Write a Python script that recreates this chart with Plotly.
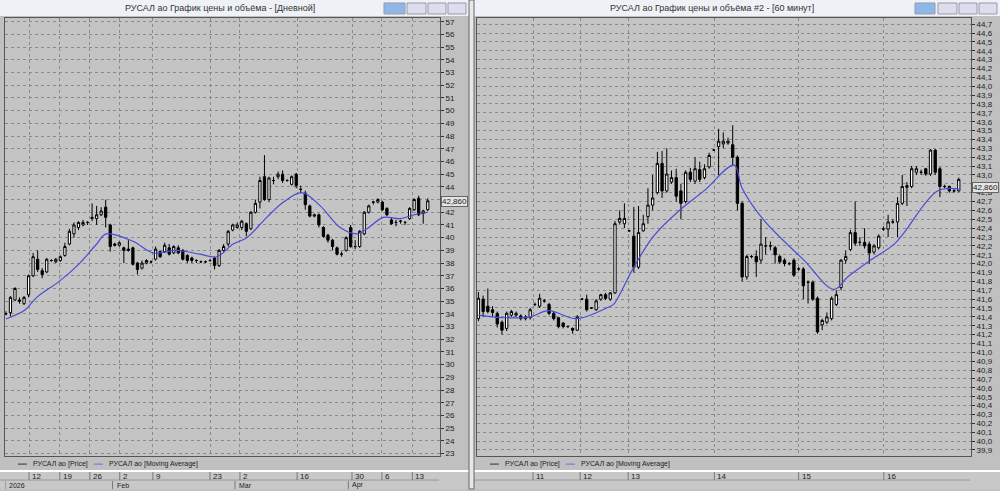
import plotly.graph_objects as go

# ---------- Left panel (daily) ----------
L_open  = [34.0,34.1,35.1,35.1,34.8,35.5,37.0,38.3,37.4,37.3,38.2,38.1,38.2,38.6,39.5,40.3,40.8,41.0,41.2,41.5,41.5,41.8,42.4,41.0,39.5,39.4,39.2,39.1,39.2,38.0,37.6,38.0,38.1,38.3,38.9,38.9,39.2,38.8,39.2,39.0,38.6,38.4,38.2,38.1,38.1,38.2,38.4,37.8,39.0,39.5,40.6,40.8,40.8,41.1,40.7,42.0,42.8,44.8,43.0,44.5,44.8,45.0,44.5,44.2,45.0,43.8,43.5,42.5,41.7,41.8,40.8,40.2,39.8,39.2,38.7,39.0,40.8,39.3,39.3,40.3,42.0,42.8,42.8,42.8,42.3,41.4,41.2,41.3,41.2,41.5,42.2,43.1,41.9,42.2]
L_high  = [34.2,35.4,36.1,35.3,35.4,37.1,38.8,39.0,37.6,38.4,38.3,38.4,38.6,39.6,40.7,41.2,41.3,41.4,41.3,42.7,42.5,42.4,43.0,41.1,39.6,39.7,39.3,39.8,39.3,38.1,38.2,38.3,38.2,39.3,39.0,39.6,39.5,39.4,39.4,39.1,38.7,38.5,38.3,38.2,38.2,38.3,38.5,39.1,39.5,40.6,41.1,41.2,41.4,41.2,42.1,43.0,44.8,46.5,44.8,44.8,45.2,45.3,44.6,44.9,45.1,44.1,43.7,42.6,41.9,41.9,40.9,40.3,39.9,39.3,38.9,40.1,41.0,39.8,40.6,42.1,42.6,42.9,43.1,42.9,42.4,41.6,41.4,41.4,41.3,42.4,43.1,43.3,42.2,43.1]
L_low   = [33.9,33.8,35.0,34.8,34.7,35.3,36.9,37.3,36.8,37.2,38.1,38.0,38.1,38.5,39.4,40.0,40.6,40.9,41.0,41.3,41.0,41.7,40.8,38.9,39.3,39.3,38.0,38.9,37.8,37.1,37.5,37.9,38.0,38.2,38.4,38.8,38.6,38.7,38.7,38.2,38.0,38.0,38.0,38.0,38.0,38.1,37.5,37.7,38.9,39.3,40.5,40.7,40.6,40.1,40.6,41.9,42.3,42.9,42.8,44.2,44.6,44.3,44.4,44.1,43.9,43.5,42.2,41.6,41.6,40.8,40.0,39.6,39.0,38.6,38.5,38.9,39.2,39.1,39.2,40.2,41.9,42.6,42.7,42.1,41.7,41.0,40.9,41.1,41.0,41.4,42.1,41.7,41.1,42.1]
L_close = [34.0,35.3,36.0,35.0,35.3,37.0,38.5,37.5,37.1,38.3,38.2,38.3,38.5,39.3,40.5,41.0,41.2,41.2,41.2,41.6,41.8,42.1,41.6,39.3,39.4,39.6,39.0,39.0,37.9,37.5,38.0,38.2,38.1,39.1,38.5,39.4,38.7,39.3,38.8,38.3,38.2,38.2,38.2,38.1,38.1,38.2,37.8,39.0,39.3,40.5,41.0,41.0,41.3,40.5,42.0,42.7,44.5,43.0,44.7,44.5,45.0,44.5,44.5,44.8,44.1,43.8,42.6,41.7,41.8,41.0,40.1,39.8,39.3,38.7,38.7,40.0,39.3,39.3,40.5,42.0,42.5,42.8,43.0,42.2,41.8,41.1,41.2,41.3,41.2,42.3,43.0,41.8,42.1,42.9]
L_ma_x  = [0,4.2,6.8,11.9,16.3,20,22.1,28.1,32.5,37.6,42.8,46.5,50.1,53.1,57.5,61.2,65.2,69.3,73.7,77.4,79.6,83.2,86.9,89.9,93]
L_ma_y  = [33.6,34.3,35.3,36.6,38.0,39.5,40.3,39.7,38.8,39.0,38.7,38.5,39.5,40.0,41.6,42.8,43.55,42.5,40.8,40.3,40.7,41.6,41.5,41.8,42.0]
L_day_pos = [5.1,11.9,18.5,25.1,32.4,45,51.6,64.2,76.3,82.9,89.6]
L_day_lbl = ["12","19","26","2","9","23","2","16","30","6","13"]
L_mon_pos = [-0.2,23.5,50.5,75.5]
L_mon_lbl = ["2026","Feb","Mar","Apr"]
L_yticks = list(range(23, 58))

# ---------- Right panel (60 min) ----------
R_ohlc = [
(41.38,41.68,41.35,41.61),(41.60,41.64,41.40,41.46),(41.52,41.72,41.44,41.46),(41.48,41.52,41.40,41.45),
(41.44,41.46,41.28,41.32),(41.34,41.36,41.20,41.25),(41.27,41.46,41.24,41.44),(41.42,41.48,41.40,41.46),
(41.42,41.46,41.40,41.44),(41.41,41.43,41.36,41.38),(41.38,41.42,41.36,41.40),(41.39,41.50,41.37,41.48),
(41.54,41.56,41.52,41.54),(41.52,41.66,41.50,41.61),(41.58,41.60,41.56,41.58),(41.54,41.56,41.42,41.44),
(41.44,41.46,41.36,41.38),(41.39,41.40,41.27,41.29),(41.33,41.34,41.27,41.29),(41.29,41.30,41.28,41.29),
(41.27,41.28,41.21,41.25),(41.25,41.42,41.24,41.40),(41.60,41.61,41.59,41.60),(41.60,41.65,41.46,41.48),
(41.50,41.51,41.49,41.50),(41.48,41.60,41.47,41.58),(41.60,41.66,41.58,41.65),(41.65,41.67,41.59,41.61),
(41.60,41.68,41.58,41.67),(41.67,42.48,41.66,42.45),(42.47,42.60,42.44,42.51),(42.45,42.68,42.40,42.51),
(42.37,42.38,42.36,42.37),(42.31,42.64,41.90,41.96),(41.96,42.65,41.94,42.35),(42.37,42.55,42.36,42.45),
(42.53,42.85,42.45,42.66),(42.66,43.00,42.60,42.74),(42.80,43.26,42.78,43.13),(43.13,43.27,42.74,42.82),
(42.82,43.30,42.80,43.01),(42.92,43.05,42.90,42.97),(42.97,43.07,42.70,42.76),(42.82,42.90,42.50,42.68),
(42.70,43.05,42.68,43.03),(43.03,43.08,42.92,42.95),(42.93,43.20,42.90,43.07),(43.06,43.15,42.92,42.95),
(42.97,43.12,42.95,43.07),(43.09,43.25,43.07,43.22),(43.28,43.29,43.27,43.28),(43.32,43.52,43.00,43.38),
(43.35,43.48,43.30,43.38),(43.36,43.42,43.34,43.38),(43.34,43.56,43.10,43.20),(43.20,43.22,42.60,42.68),
(42.68,42.70,41.80,41.85),(41.85,42.10,41.82,42.08),(42.08,42.10,42.06,42.08),(42.08,42.15,41.85,42.02),
(42.04,42.50,42.00,42.22),(42.20,42.30,42.10,42.20),(42.20,42.25,42.15,42.20),(42.18,42.20,42.00,42.10),
(42.08,42.10,42.00,42.02),(42.04,42.06,41.97,42.00),(42.00,42.02,41.98,42.00),(42.04,42.06,41.85,41.87),
(41.94,41.96,41.92,41.94),(41.94,41.96,41.60,41.75),(41.79,41.81,41.55,41.79),(41.79,41.81,41.58,41.60),
(41.61,41.63,41.21,41.23),(41.31,41.38,41.25,41.36),(41.34,41.45,41.32,41.40),(41.38,41.63,41.36,41.61),
(41.54,41.70,41.52,41.65),(41.73,42.05,41.70,42.04),(42.04,42.15,42.00,42.08),(42.16,42.38,42.14,42.35),
(42.35,42.70,42.20,42.23),(42.24,42.30,42.20,42.24),(42.24,42.40,42.17,42.20),(42.22,42.25,42.00,42.12),
(42.13,42.22,42.11,42.20),(42.18,42.33,42.16,42.31),(42.39,42.42,42.37,42.39),(42.39,42.55,42.30,42.47),
(42.47,42.50,42.45,42.47),(42.47,42.75,42.30,42.68),(42.68,43.00,42.66,42.87),(42.86,42.92,42.65,42.88),
(42.87,43.10,42.85,43.07),(43.03,43.10,43.00,43.07),(43.03,43.06,43.00,43.03),(43.07,43.08,42.99,43.01),
(43.01,43.29,42.99,43.28),(43.28,43.29,43.00,43.03),(43.07,43.09,42.75,42.87),(42.87,42.89,42.85,42.87),
(42.87,42.88,42.80,42.82),(42.82,42.84,42.80,42.82),(42.82,42.97,42.81,42.95)]
R_open  = [r[0] for r in R_ohlc]
R_high  = [r[1] for r in R_ohlc]
R_low   = [r[2] for r in R_ohlc]
R_close = [r[3] for r in R_ohlc]
R_ma_x = [0,5.3,11,14.9,20.9,28,28.7,33,37.2,42.9,47.9,54.3,56,60.6,69.1,75.5,78.4,83.3,88.3,90.4,97.5,102.1]
R_ma_y = [41.42,41.39,41.40,41.47,41.38,41.52,41.54,41.96,42.31,42.61,42.82,43.11,42.85,42.49,42.04,41.71,41.85,42.04,42.22,42.35,42.82,42.84]
R_day_pos = [11.6,21.6,31.8,50.1,68.0,86.1]
R_day_lbl = ["11","12","13","14","15","16"]
R_yticks = [round(39.9 + 0.1*i, 1) for i in range(49)]

LAST = 42.86
W, H = 1000, 491
def px(x): return x / W
def py(y): return 1 - y / H

fig = go.Figure()
inc = dict(line=dict(color="black", width=1), fillcolor="white")
dec = dict(line=dict(color="black", width=1), fillcolor="black")
fig.add_trace(go.Candlestick(x=list(range(len(L_open))), open=L_open, high=L_high, low=L_low, close=L_close,
    increasing=inc, decreasing=dec, whiskerwidth=0, xaxis="x", yaxis="y", showlegend=False, hoverinfo="skip"))
fig.add_trace(go.Scatter(x=L_ma_x, y=L_ma_y, mode="lines", line=dict(color="#4a4ad8", width=1.2, shape="spline"),
    xaxis="x", yaxis="y", showlegend=False))
fig.add_trace(go.Candlestick(x=list(range(len(R_open))), open=R_open, high=R_high, low=R_low, close=R_close,
    increasing=inc, decreasing=dec, whiskerwidth=0, xaxis="x2", yaxis="y2", showlegend=False, hoverinfo="skip"))
fig.add_trace(go.Scatter(x=R_ma_x, y=R_ma_y, mode="lines", line=dict(color="#4a4ad8", width=1.2, shape="spline"),
    xaxis="x2", yaxis="y2", showlegend=False))

font = dict(family="Liberation Sans, Arial", size=8, color="#222")
gridc = "#8a8a8a"
ax_common = dict(showgrid=True, gridcolor=gridc, griddash="dot", gridwidth=1, zeroline=False,
                 showline=True, linecolor="#555", linewidth=1, mirror=True, fixedrange=True)
fig.update_layout(
    width=W, height=H, margin=dict(l=0, r=0, t=0, b=0),
    paper_bgcolor="#c0c0c0", plot_bgcolor="#c4c4c4", font=font,
    xaxis=dict(domain=[px(5), px(440)], range=[-0.2, 95.7], tickvals=L_day_pos, showticklabels=False,
               rangeslider=dict(visible=False), anchor="y", **ax_common),
    yaxis=dict(domain=[py(458), py(18)], range=[22.8, 57.3], side="right", tickvals=L_yticks,
               ticktext=[str(v) for v in L_yticks], ticks="outside", ticklen=3, tickcolor="#333",
               anchor="x", tickfont=font, **ax_common),
    xaxis2=dict(domain=[px(477), px(971)], range=[-0.3, 104.6], tickvals=R_day_pos, showticklabels=False,
                rangeslider=dict(visible=False), anchor="y2", **ax_common),
    yaxis2=dict(domain=[py(458), py(18)], range=[39.83, 44.77], side="right", tickvals=R_yticks,
                ticktext=[f"{v:.1f}".replace(".", ",") for v in R_yticks], ticks="outside", ticklen=3,
                tickcolor="#333", anchor="x2", tickfont=font, **ax_common),
)

shapes, ann = [], []
for x0, x1 in [(0, 469), (474, 1000)]:
    shapes.append(dict(type="rect", xref="paper", yref="paper", x0=px(x0), x1=px(x1), y0=py(16), y1=py(0),
                       fillcolor="#eef1f5", line=dict(width=0), layer="below"))
    shapes.append(dict(type="rect", xref="paper", yref="paper", x0=px(x0), x1=px(x1), y0=py(491), y1=py(473),
                       fillcolor="#c8c8c8", line=dict(width=0), layer="below"))
    shapes.append(dict(type="line", xref="paper", yref="paper", x0=px(x0), x1=px(x1), y0=py(473), y1=py(473),
                       line=dict(color="white", width=2)))
    shapes.append(dict(type="line", xref="paper", yref="paper", x0=px(x0), x1=px(x1 - 30), y0=py(482), y1=py(482),
                       line=dict(color="#999", width=1)))
shapes.append(dict(type="rect", xref="paper", yref="paper", x0=px(469), x1=px(474), y0=0, y1=1,
                   fillcolor="#e8e8e8", line=dict(color="#666", width=1)))
ann.append(dict(text="РУСАЛ ао График цены и объёма - [Дневной]", x=px(220), y=py(8), xref="paper", yref="paper",
                xanchor="center", yanchor="middle",
                showarrow=False, font=dict(family="Liberation Sans, Arial", size=9, color="#333")))
ann.append(dict(text="РУСАЛ ао График цены и объёма #2 - [60 минут]", x=px(712), y=py(8), xref="paper", yref="paper",
                xanchor="center", yanchor="middle",
                showarrow=False, font=dict(family="Liberation Sans, Arial", size=9, color="#333")))
for bx in [(384, 405, "#8fb8ea"), (407, 426, "#dde"), (428, 446, "#dde"), (448, 466, "#dde"),
           (915, 935, "#8fb8ea"), (938, 957, "#dde"), (959, 977, "#dde"), (979, 997, "#dde")]:
    shapes.append(dict(type="rect", xref="paper", yref="paper", x0=px(bx[0]), x1=px(bx[1]), y0=py(14), y1=py(3),
                       fillcolor=bx[2], line=dict(color="#99a", width=1)))
for x0 in [18, 490]:
    shapes.append(dict(type="line", xref="paper", yref="paper", x0=px(x0), x1=px(x0 + 9), y0=py(466), y1=py(466),
                       line=dict(color="#333", width=1)))
    shapes.append(dict(type="line", xref="paper", yref="paper", x0=px(x0 + 76), x1=px(x0 + 85), y0=py(466), y1=py(466),
                       line=dict(color="#6a6ae0", width=1)))
    ann.append(dict(text="РУСАЛ ао [Price]", x=px(x0 + 13), y=py(466), xref="paper", yref="paper", xanchor="left",
                    yanchor="middle", showarrow=False, font=dict(family="Liberation Sans, Arial", size=7, color="#222")))
    ann.append(dict(text="РУСАЛ ао [Moving Average]", x=px(x0 + 89), y=py(466), xref="paper", yref="paper",
                    xanchor="left", yanchor="middle", showarrow=False,
                    font=dict(family="Liberation Sans, Arial", size=7, color="#222")))
for xr, pos, lbl in [("x", L_day_pos, L_day_lbl), ("x2", R_day_pos, R_day_lbl)]:
    for p, t in zip(pos, lbl):
        shapes.append(dict(type="line", xref=xr, yref="paper", x0=p, x1=p, y0=py(482), y1=py(474),
                           line=dict(color="#777", width=1)))
        ann.append(dict(text=t, x=p, y=py(478), xref=xr, yref="paper", xanchor="left", yanchor="middle", xshift=1,
                        showarrow=False, font=dict(family="Liberation Sans, Arial", size=8, color="#222")))
for p, t in zip(L_mon_pos, L_mon_lbl):
    shapes.append(dict(type="line", xref="x", yref="paper", x0=p, x1=p, y0=py(491), y1=py(483),
                       line=dict(color="#777", width=1)))
    ann.append(dict(text=t, x=p, y=py(487), xref="x", yref="paper", xanchor="left", yanchor="middle", xshift=2,
                    showarrow=False, font=dict(family="Liberation Sans, Arial", size=7, color="#222")))
for yr, xpos in [("y", 441), ("y2", 972)]:
    ann.append(dict(text="42,860", x=px(xpos), y=LAST, xref="paper", yref=yr, xanchor="left", yanchor="middle",
                    showarrow=False, bgcolor="#e4e4e4", bordercolor="#666", borderwidth=1, borderpad=0,
                    font=dict(family="Liberation Sans, Arial", size=8, color="#222")))
fig.update_layout(shapes=shapes, annotations=ann)
fig.write_html("out.html", config={"displayModeBar": False},
               post_script="document.body.style.margin='0';document.body.style.overflow='hidden';")
